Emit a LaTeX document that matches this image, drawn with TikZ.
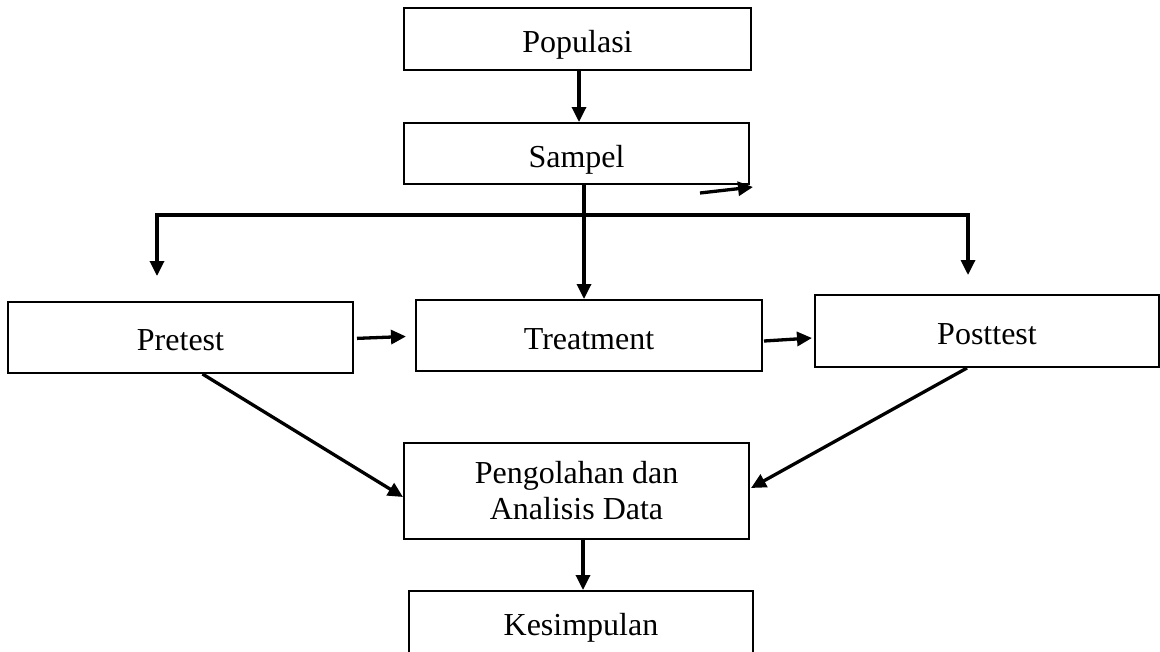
\documentclass[tikz,border=0pt]{standalone}
\usepackage{fontspec}
\setmainfont{Liberation Serif}
\usetikzlibrary{arrows.meta,calc}
\newcommand{\bl}[2]{\raisebox{-#1pt}[0pt][0pt]{#2}}
\begin{document}
\begin{tikzpicture}[x=1pt,y=-1pt,
  box/.style={draw,line width=2pt,inner sep=0pt,font=\fontsize{32}{36}\selectfont,align=center},
  conn/.style={line width=3.3pt},
  arr/.style={conn,-{Triangle[length=15pt,width=14pt]}}]
\useasboundingbox (0,0) rectangle (1160,651);
\clip (0,0) rectangle (1160,651);
\fill[white] (0,0) rectangle (1160,651);
\node[box,minimum width=347pt,minimum height=62pt] (pop) at (577.5,39) {\bl{13}{Populasi}};
\node[box,minimum width=345pt,minimum height=61pt] (sam) at (576.5,153.5) {\bl{13.5}{Sampel}};
\node[box,minimum width=345pt,minimum height=71pt] (pre) at (180.5,337.5) {\bl{12.5}{Pretest}};
\node[box,minimum width=346pt,minimum height=71pt] (tre) at (589,335.5) {\bl{13.5}{Treatment}};
\node[box,minimum width=344pt,minimum height=72pt] (post) at (987,331) {\bl{13}{Posttest}};
\node[box,minimum width=345pt,minimum height=96pt] (peng) at (576.5,491) {Pengolahan dan\\Analisis Data};
\node[box,minimum width=344pt,minimum height=71pt] (kes) at (581,626.5) {\bl{8.5}{Kesimpulan}};
\coordinate (split) at (584,215);
\coordinate (hl) at (157,215);
\coordinate (hr) at (968,215);
\coordinate (lt) at (157,276);
\coordinate (rt) at (968,275);
\coordinate (s1) at (700,193);
\coordinate (s2) at (753,187);
\draw[arr] ($(pop.south)+(1.5,0)$) -- ($(sam.north)+(2.5,0)$);
\draw[arr] (sam.south -| split) -- (split |- tre.north);
\draw[conn,line cap=rect] (hl) -- (hr);
\draw[arr] (hl) -- (lt);
\draw[arr] (hr) -- (rt);
\draw[arr] (s1) -- (s2);
\draw[arr,shorten <=3pt,shorten >=-1pt] ($(pre.east)+(0,1)$) -- ($(tre.west)+(-10,1)$);
\draw[arr] ($(tre.east)+(1,5.5)$) -- ($(post.west)+(-2,7)$);
\draw[arr] ($(pre.south)+(22,0)$) -- ($(peng.west)+(0,6)$);
\draw[arr] ($(post.south)+(-20,0)$) -- ($(peng.east)+(1,-3)$);
\draw[arr] (peng.south -| 583,0) -- (kes.north -| 583,0);
\end{tikzpicture}
\end{document}
